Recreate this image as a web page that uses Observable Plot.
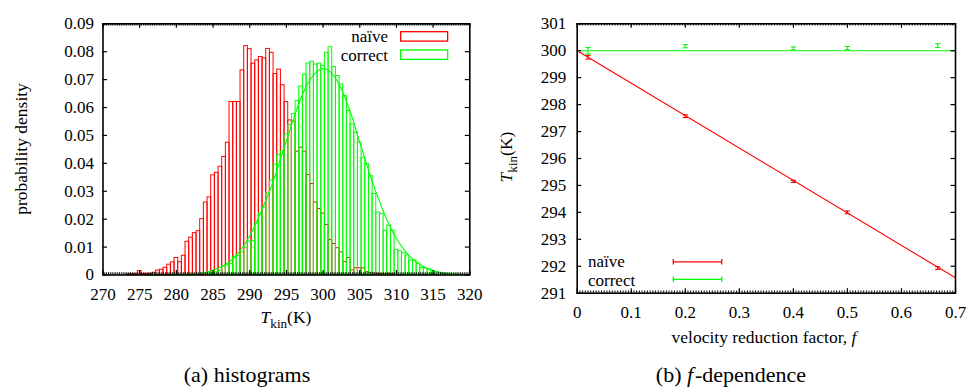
<!DOCTYPE html>
<html>
<head>
<meta charset="utf-8">
<script src="https://cdn.jsdelivr.net/npm/d3@7"></script>
<script src="https://cdn.jsdelivr.net/npm/@observablehq/plot@0.6"></script>
<style>
  html, body { margin: 0; padding: 0; background: #fff; }
  body { width: 967px; height: 387px; position: relative; overflow: hidden;
         font-family: "Liberation Serif", "Times New Roman", Times, "Nimbus Roman", "Noto Serif", "DejaVu Serif", FreeSerif, serif; color: #000; }
  .abs { position: absolute; white-space: nowrap; line-height: 0.9; }
  #pa { position: absolute; left: 0; top: 0; }
  #pb { position: absolute; left: 480px; top: 0; }
  #leg { position: absolute; left: 0; top: 0; pointer-events: none; }
  sub { font-size: 0.75em; vertical-align: -0.35em; line-height: 0; }
</style>
</head>
<body>
<div id="pa"></div>
<div id="pb"></div>
<script>
// ---------------- Panel (a): histograms ----------------
const binWidth = 0.5;
const naiveBinT = [273.5, 274, 274.5, 275, 275.5, 276, 276.5, 277, 277.5, 278, 278.5, 279, 279.5, 280, 280.5, 281, 281.5, 282, 282.5, 283, 283.5, 284, 284.5, 285, 285.5, 286, 286.5, 287, 287.5, 288, 288.5, 289, 289.5, 290, 290.5, 291, 291.5, 292, 292.5, 293, 293.5, 294, 294.5, 295, 295.5, 296, 296.5, 297, 297.5, 298, 298.5, 299, 299.5, 300, 300.5, 301, 301.5, 302, 302.5, 303, 303.5, 304, 304.5, 305, 305.5, 306, 306.5, 307, 307.5, 308, 308.5, 309, 309.5];
const naiveBinP = [0.0002, 0.0003, 0.0002, 0.0014, 0.0003, 0.0003, 0.0004, 0.0008, 0.0016, 0.0019, 0.0026, 0.0037, 0.0045, 0.0061, 0.0046, 0.0069, 0.0119, 0.0134, 0.0150, 0.0157, 0.0200, 0.0260, 0.0278, 0.0357, 0.0366, 0.0388, 0.0423, 0.0474, 0.0620, 0.0620, 0.0620, 0.0733, 0.0820, 0.0809, 0.0757, 0.0769, 0.0781, 0.0776, 0.0810, 0.0796, 0.0720, 0.0736, 0.0680, 0.0620, 0.0554, 0.0550, 0.0442, 0.0456, 0.0442, 0.0358, 0.0326, 0.0260, 0.0236, 0.0220, 0.0179, 0.0126, 0.0111, 0.0096, 0.0081, 0.0046, 0.0061, 0.0016, 0.0024, 0.0024, 0.0024, 0.0010, 0.0008, 0.0005, 0.0004, 0.0003, 0.0002, 0.0004, 0.0003];
const correctBinT = [284.5, 285, 285.5, 286, 286.5, 287, 287.5, 288, 288.5, 289, 289.5, 290, 290.5, 291, 291.5, 292, 292.5, 293, 293.5, 294, 294.5, 295, 295.5, 296, 296.5, 297, 297.5, 298, 298.5, 299, 299.5, 300, 300.5, 301, 301.5, 302, 302.5, 303, 303.5, 304, 304.5, 305, 305.5, 306, 306.5, 307, 307.5, 308, 308.5, 309, 309.5, 310, 310.5, 311, 311.5, 312, 312.5, 313, 313.5, 314, 314.5, 315, 315.5, 316, 316.5];
const correctBinP = [0.0005, 0.0008, 0.0010, 0.0015, 0.0030, 0.0035, 0.0040, 0.0064, 0.0068, 0.0081, 0.0098, 0.0120, 0.0122, 0.0185, 0.0220, 0.0242, 0.0292, 0.0338, 0.0395, 0.0430, 0.0444, 0.0504, 0.0537, 0.0577, 0.0623, 0.0675, 0.0718, 0.0758, 0.0764, 0.0754, 0.0757, 0.0748, 0.0796, 0.0816, 0.0745, 0.0713, 0.0683, 0.0641, 0.0588, 0.0540, 0.0510, 0.0474, 0.0420, 0.0397, 0.0355, 0.0290, 0.0224, 0.0219, 0.0159, 0.0177, 0.0159, 0.0090, 0.0085, 0.0078, 0.0070, 0.0052, 0.0052, 0.0040, 0.0025, 0.0023, 0.0020, 0.0014, 0.0010, 0.0007, 0.0005];
const fitT = [276, 278, 280, 282, 284, 286, 288, 290, 292, 293, 294, 295, 296, 297, 298, 299, 300, 301, 302, 303, 304, 305, 306, 307, 308, 309, 310, 311, 312, 313, 314, 315, 316, 318, 320];
const fitP = [0.0000, 0.0000, 0.0001, 0.0003, 0.0010, 0.0028, 0.0066, 0.0140, 0.0255, 0.0320, 0.0400, 0.0480, 0.0562, 0.0635, 0.0690, 0.0725, 0.0740, 0.0728, 0.0692, 0.0635, 0.0562, 0.0475, 0.0392, 0.0312, 0.0243, 0.0180, 0.0131, 0.0092, 0.0062, 0.0041, 0.0026, 0.0016, 0.0009, 0.0003, 0.0001];
const histXTicks = [270, 275, 280, 285, 290, 295, 300, 305, 310, 315, 320];
const histYTicks = [0, 0.01, 0.02, 0.03, 0.04, 0.05, 0.06, 0.07, 0.08, 0.09];
const histYTickLabels = ["0", "0.01", "0.02", "0.03", "0.04", "0.05", "0.06", "0.07", "0.08", "0.09"];

// ---------------- Panel (b): f-dependence ----------------
const fValues = [0.02, 0.2, 0.4, 0.5, 0.667];
const naiveTkin = [299.76, 297.57, 295.15, 294.00, 291.93];
const naiveErr = [0.07, 0.05, 0.04, 0.05, 0.05];
const correctTkin = [300.00, 300.17, 300.09, 300.10, 300.19];
const correctErr = [0.12, 0.06, 0.05, 0.06, 0.07];
const naiveFitF = [0, 0.7];
const naiveFitT = [300, 291.57];
const correctFitF = [0, 0.7];
const correctFitT = [300, 300];
const depXTicks = [0, 0.1, 0.2, 0.3, 0.4, 0.5, 0.6, 0.7];
const depXTickLabels = ["0", "0.1", "0.2", "0.3", "0.4", "0.5", "0.6", "0.7"];
const depYTicks = [291, 292, 293, 294, 295, 296, 297, 298, 299, 300, 301];

// ---------------- styles ----------------
const RED = "#ff0000", GREEN = "#00ff00";
const FONT = '"Liberation Serif", "Times New Roman", Times, "Nimbus Roman", "Noto Serif", "DejaVu Serif", FreeSerif, serif';
const TICK_FS = 17;
const MAJOR = 4.5, MINOR = 2.2;

const naiveHist = naiveBinT.map((T, i) => ({T, p: naiveBinP[i]}));
const correctHist = correctBinT.map((T, i) => ({T, p: correctBinP[i]}));
const fitCurve = fitT.map((T, i) => ({T, p: fitP[i]}));
const naivePts = fValues.map((f, i) => ({f, T: naiveTkin[i], e: naiveErr[i]}));
const correctPts = fValues.map((f, i) => ({f, T: correctTkin[i], e: correctErr[i]}));
const naiveFit = naiveFitF.map((f, i) => ({f, T: naiveFitT[i]}));
const correctFit = correctFitF.map((f, i) => ({f, T: correctFitT[i]}));

const capSymbol = { draw(ctx, size) { const r = Math.sqrt(size / Math.PI); ctx.moveTo(-r, 0); ctx.lineTo(r, 0); } };

function frameTicks(xMajor, xMinor, yMajor, innerW, innerH) {
  return [
    Plot.ruleX(xMajor, {x: d => d, insetTop: innerH - MAJOR, stroke: "black", strokeWidth: 1.2}),
    Plot.ruleX(xMajor, {x: d => d, insetBottom: innerH - MAJOR, stroke: "black", strokeWidth: 1.2}),
    Plot.ruleX(xMinor, {x: d => d, insetTop: innerH - MINOR, stroke: "black", strokeWidth: 1}),
    Plot.ruleX(xMinor, {x: d => d, insetBottom: innerH - MINOR, stroke: "black", strokeWidth: 1}),
    Plot.ruleY(yMajor, {y: d => d, insetRight: innerW - MAJOR, stroke: "black", strokeWidth: 1.2}),
    Plot.ruleY(yMajor, {y: d => d, insetLeft: innerW - MAJOR, stroke: "black", strokeWidth: 1.2})
  ];
}

// Panel a
{
  const W = 480, H = 340, mL = 102.5, mR = 10.7, mT = 23.3, mB = 65.5;
  const innerW = W - mL - mR, innerH = H - mT - mB;
  const minor = d3.range(270, 320.0001, 0.25);
  const chart = Plot.plot({
    width: W, height: H,
    marginLeft: mL, marginRight: mR, marginTop: mT, marginBottom: mB,
    style: {fontFamily: FONT, fontSize: TICK_FS + "px", background: "none", color: "black", overflow: "visible"},
    x: {domain: [270, 320]},
    y: {domain: [0, 0.09]},
    marks: [
      Plot.rect(naiveHist, {x1: d => d.T - binWidth / 2, x2: d => d.T + binWidth / 2, y1: 0, y2: "p", fill: "none", stroke: RED, strokeWidth: 1}),
      Plot.rect(correctHist, {x1: d => d.T - binWidth / 2, x2: d => d.T + binWidth / 2, y1: 0, y2: "p", fill: "none", stroke: GREEN, strokeWidth: 1}),
      Plot.line(fitCurve, {x: "T", y: "p", stroke: GREEN, strokeWidth: 1.1, curve: "monotone-x"}),
      ...frameTicks(histXTicks, minor, histYTicks, innerW, innerH),
      Plot.frame({stroke: "black", strokeWidth: 1.6}),
      Plot.axisX(histXTicks, {anchor: "bottom", tickSize: 0, tickPadding: 13, label: null, fontSize: TICK_FS, tickFormat: d => String(d)}),
      Plot.axisY(histYTicks, {anchor: "left", tickSize: 0, tickPadding: 9, label: null, fontSize: TICK_FS, tickFormat: (d, i) => histYTickLabels[i]})
    ]
  });
  document.getElementById("pa").append(chart);
}

// Panel b
{
  const W = 487, H = 350, mL = 96.7, mR = 12, mT = 23.3, mB = 57.3;
  const innerW = W - mL - mR, innerH = H - mT - mB;
  const minor = d3.range(0, 0.70001, 0.005);
  const chart = Plot.plot({
    width: W, height: H,
    marginLeft: mL, marginRight: mR, marginTop: mT, marginBottom: mB,
    style: {fontFamily: FONT, fontSize: TICK_FS + "px", background: "none", color: "black", overflow: "visible"},
    x: {domain: [0, 0.7]},
    y: {domain: [291, 301]},
    marks: [
      Plot.line(naiveFit, {x: "f", y: "T", stroke: RED, strokeWidth: 1.1}),
      Plot.line(correctFit, {x: "f", y: "T", stroke: GREEN, strokeWidth: 1.1}),
      Plot.ruleX(naivePts, {x: "f", y1: d => d.T - d.e, y2: d => d.T + d.e, stroke: RED, strokeWidth: 1.1}),
      Plot.dot(naivePts, {x: "f", y: d => d.T - d.e, symbol: capSymbol, r: 2.6, stroke: RED, strokeWidth: 1.1}),
      Plot.dot(naivePts, {x: "f", y: d => d.T + d.e, symbol: capSymbol, r: 2.6, stroke: RED, strokeWidth: 1.1}),
      Plot.ruleX(correctPts, {x: "f", y1: d => d.T - d.e, y2: d => d.T + d.e, stroke: GREEN, strokeWidth: 1.1}),
      Plot.dot(correctPts, {x: "f", y: d => d.T - d.e, symbol: capSymbol, r: 2.6, stroke: GREEN, strokeWidth: 1.1}),
      Plot.dot(correctPts, {x: "f", y: d => d.T + d.e, symbol: capSymbol, r: 2.6, stroke: GREEN, strokeWidth: 1.1}),
      ...frameTicks(depXTicks, minor, depYTicks, innerW, innerH),
      Plot.frame({stroke: "black", strokeWidth: 1.6}),
      Plot.axisX(depXTicks, {anchor: "bottom", tickSize: 0, tickPadding: 13, label: null, fontSize: TICK_FS, tickFormat: (d, i) => depXTickLabels[i]}),
      Plot.axisY(depYTicks, {anchor: "left", tickSize: 0, tickPadding: 11, label: null, fontSize: TICK_FS, tickFormat: d => String(d)})
    ]
  });
  document.getElementById("pb").append(chart);
}

// ---------------- text overlays (titles, legends, captions) ----------------
function textAt(html, x, baseline, fs, align) {
  const el = document.createElement("div");
  el.className = "abs";
  el.innerHTML = html;
  el.style.fontSize = fs + "px";
  el.style.left = x + "px";
  el.style.top = (baseline - 0.7875 * fs) + "px";
  const tx = align === "middle" ? "-50%" : align === "end" ? "-100%" : "0";
  el.style.transform = `translateX(${tx})`;
  document.body.append(el);
  return el;
}
function rotatedAt(html, cx, cy, fs) {
  const el = document.createElement("div");
  el.className = "abs";
  el.innerHTML = html;
  el.style.fontSize = fs + "px";
  el.style.left = cx + "px";
  el.style.top = cy + "px";
  el.style.transform = "translate(-50%, -50%) rotate(-90deg)";
  document.body.append(el);
}

// axis titles
rotatedAt("probability density", 22, 149, 17.5);
textAt("<i>T</i><sub>kin</sub>(K)", 286, 323.5, 17.5, "middle");
rotatedAt("<i>T</i><sub>kin</sub>(K)", 507, 157, 17.5);
textAt("velocity reduction factor, <i>f</i>", 764, 344, 17.5, "middle");

// legend texts
const LEG_FS = 17;
textAt("naïve", 388, 42.4, LEG_FS, "end");
textAt("correct", 388, 61.3, LEG_FS, "end");
textAt("naïve", 588, 267.1, LEG_FS, "start");
textAt("correct", 588, 285.9, LEG_FS, "start");

// legend swatches (overlay SVG drawn with d3)
{
  const svg = d3.select("body").append("svg").attr("id", "leg").attr("width", 967).attr("height", 387);
  svg.append("rect").attr("x", 400.65).attr("y", 31.7).attr("width", 47).attr("height", 9.4).attr("fill", "none").attr("stroke", RED).attr("stroke-width", 1.3);
  svg.append("rect").attr("x", 400.65).attr("y", 50.0).attr("width", 47).attr("height", 9.4).attr("fill", "none").attr("stroke", GREEN).attr("stroke-width", 1.3);
  const sample = (y, c) => {
    svg.append("line").attr("x1", 673.3).attr("x2", 721.7).attr("y1", y).attr("y2", y).attr("stroke", c).attr("stroke-width", 1.3);
    svg.append("line").attr("x1", 673.3).attr("x2", 673.3).attr("y1", y - 2.8).attr("y2", y + 2.8).attr("stroke", c).attr("stroke-width", 1.3);
    svg.append("line").attr("x1", 721.7).attr("x2", 721.7).attr("y1", y - 2.8).attr("y2", y + 2.8).attr("stroke", c).attr("stroke-width", 1.3);
  };
  sample(261.8, RED);
  sample(279.3, GREEN);
}

// captions
textAt("(a) histograms", 247, 382.5, 22, "middle");
textAt("(b) <i>f</i>&#8202;-dependence", 731, 382.5, 22, "middle");
</script>
</body>
</html>
